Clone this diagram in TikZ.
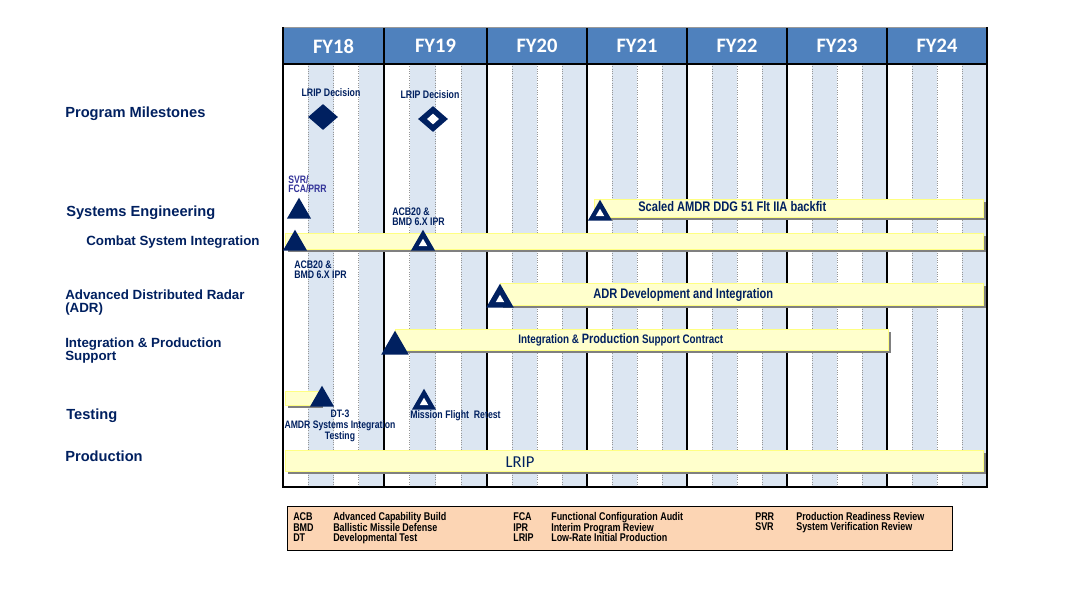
\documentclass[tikz,border=0pt]{standalone}
\usepackage{fontspec}
\setmainfont{Liberation Sans}
\newfontfamily\narrowfont[FakeStretch=0.8]{Liberation Sans}
\newfontfamily\calfont{Carlito}
\usetikzlibrary{
  shapes.geometric,
  fit,
  shadows,
  positioning
}
\definecolor{NavyText}      {RGB}{0,  32,  96}
\definecolor{MilestoneBlue} {RGB}{0,  32,  96}
\definecolor{ReviewPurple}  {RGB}{51,  51, 153}
\definecolor{HeaderBlue}    {RGB}{79, 129, 189}
\definecolor{QuarterShade}  {RGB}{220,230, 242}
\definecolor{QuarterLine}   {RGB}{150,150, 150}
\definecolor{BarFill}       {RGB}{255,255, 204}
\definecolor{BarEdge}       {RGB}{255,255, 130}
\definecolor{LegendPeach}   {RGB}{252,213, 180}

\begin{document}
\begin{tikzpicture}[
  x=0.75pt, y=-0.75pt,
  rowlabel/.style={
    anchor=west, align=left, inner sep=0pt,
    text=NavyText,
    font=\fontsize{11}{9.75}\selectfont\bfseries
  },
  sublabel/.style={
    rowlabel,
    font=\fontsize{10}{9.75}\selectfont\bfseries
  },
  fylabel/.style={
    text=white, inner sep=0pt,
    font=\calfont\fontsize{15.4}{18}\selectfont\bfseries
  },
  note/.style={
    text=NavyText, inner sep=0pt, align=left,
    font=\narrowfont\fontsize{8.2}{7.5}\selectfont\bfseries
  },
  barlabel/.style={
    anchor=west, text=NavyText, inner sep=0pt,
    font=\narrowfont\fontsize{10.4}{10}\selectfont\bfseries
  },
  bar/.style={
    draw=BarEdge, fill=BarFill,
    line width=0.75pt, inner sep=0pt,
    drop shadow={shadow xshift=2.25pt, shadow yshift=-2.5pt,
      fill=black!50, opacity=1}
  },
  tri/.style={
    regular polygon, regular polygon sides=3,
    fill=MilestoneBlue, inner sep=0pt,
    minimum size=21pt, anchor=south
  },
  bigtri/.style={tri, minimum size=24pt},
  trihole/.style={
    regular polygon, regular polygon sides=3,
    fill=white, inner sep=0pt, minimum size=7.5pt
  },
  gate/.style={
    diamond, fill=MilestoneBlue, inner sep=0pt,
    minimum width=22.5pt, minimum height=19.5pt
  },
  gatehole/.style={
    diamond, fill=white, inner sep=0pt,
    minimum width=9pt, minimum height=8.25pt
  },
  legendtext/.style={
    anchor=base west, inner sep=0pt,
    font=\narrowfont\fontsize{8.4}{8}\selectfont\bfseries
  }
]
\useasboundingbox[fill=white] (0,0) rectangle (1073,597);

% quarter shading, quarter lines and year header
\foreach \xa/\xb/\yr in {283/384/18, 384/487/19, 487/587/20,
  587/687/21, 687/787/22, 787/887/23, 887/987/24} {
  \pgfmathsetmacro\q{(\xb-\xa)/4}
  \fill[QuarterShade] ({\xa+\q},64) rectangle ({\xa+2*\q},487);
  \fill[QuarterShade] ({\xa+3*\q},64) rectangle (\xb,487);
  \foreach \k in {1,2,3}
    \draw[QuarterLine, densely dotted, line width=0.75pt]
      ({\xa+\k*\q},64) -- ({\xa+\k*\q},487);
  \fill[HeaderBlue] (\xa,27) rectangle (\xb,64);
  \node[fylabel] (fy\yr) at ({(\xa+\xb)/2},46) {FY\yr};
}
\foreach \xx in {384,487,587,687,787,887}
  \draw[black, line width=1.5pt] (\xx,27) -- (\xx,487);
\draw[black!40, line width=0.75pt] (283,27) -- (987,27);
\draw[black, line width=1.5pt] (283,64) -- (987,64);
\draw[black, line width=1.2pt] (283,27) -- (283,487);
\draw[black, line width=1.8pt] (987,27) -- (987,487);
\draw[black, line width=1.8pt] (282,487) -- (988,487);

% row titles
\node[rowlabel] (milestones) at (65,114) {Program Milestones};
\node[rowlabel] (syseng)     at (66,213) {Systems Engineering};
\node[sublabel] (csi)        at (86,242) {Combat System Integration};
\node[sublabel] (adr)        at (65,303) {Advanced Distributed Radar\\(ADR)};
\node[sublabel] (ips)        at (65,350.5) {Integration \& Production\\ Support};
\node[rowlabel] (testing)    at (66,416) {Testing};
\node[rowlabel] (production) at (65,456) {Production};

% program milestones
\node[note] (lripdec1) at (331,93) {LRIP Decision};
\node[gate] (gate1) at (323,117) {};
\node[note] (lripdec2) at (430,95) {LRIP Decision};
\node[gate] (gate2) at (433,119) {};
\node[gatehole] at (gate2.center) {};

% schedule bars
\node[bar, fit={(594,199) (983,217)}] (scaledbar) {};
\node[bar, fit={(285,233) (983,249)}] (csibar) {};
\node[bar, fit={(500,283) (983,305)}] (adrbar) {};
\node[bar, fit={(395,329) (888,350)}] (ipsbar) {};
\node[bar, fit={(285,391) (320,405)}] (dtbar) {};
\node[bar, fit={(285,450) (983,471)}] (lripbar) {};

\node[barlabel] (scaledtxt) at (638,207)
  {Scaled AMDR DDG 51 Flt IIA backfit};
\node[barlabel] (adrtxt) at (593,295)
  {ADR Development and Integration};
\node[barlabel, font=\narrowfont\fontsize{9.25}{10}\selectfont\bfseries]
  (ipstxt) at (518,340)
  {Integration \& {\fontsize{10.2}{10}\selectfont Production} Support Contract};
\node[text=NavyText, font=\calfont\fontsize{12.5}{14}\selectfont]
  (lriptxt) at (520,462) {LRIP};

% event triangles
\node[tri] (tsvr) at (299,219) {};
\node[note, anchor=west, text=ReviewPurple,
  font=\narrowfont\fontsize{8.1}{7}\selectfont\bfseries]
  (svrtxt) at (288,184.5) {SVR/\\FCA/PRR};

\node[tri] (tscaled) at (600,221) {};
\node[trihole] at (tscaled.center) {};

\node[tri] (tcsi) at (295,251) {};
\node[note, anchor=west] (acbbelow) at (294,269.5) {ACB20 \&\\BMD 6.X IPR};
\node[tri] (tacb) at (423,251) {};
\node[trihole] at (tacb.center) {};
\node[note, anchor=west] (acbabove) at (392,217) {ACB20 \&\\BMD 6.X IPR};

\node[bigtri] (tadr) at (500,308) {};
\node[trihole] at (tadr.center) {};

\node[bigtri] (tips) at (395,355) {};

\node[tri] (tdt) at (322,407) {};
\node[note, align=center,
  font=\narrowfont\fontsize{8.1}{8.25}\selectfont\bfseries]
  (dttxt) at (340,426) {DT-3\\AMDR Systems Integration\\Testing};
\node[tri] (tretest) at (424,410) {};
\node[trihole] at (tretest.center) {};
\node[note, anchor=west] (retesttxt) at (410,416) {Mission Flight\ \ Retest};

% legend
\node[draw=black, fill=LegendPeach, line width=0.75pt, inner sep=0pt,
  fit={(287,506) (952,550)}] (legend) {};
\foreach \abbr/\full/\xa/\xb/\yy in {
  ACB/Advanced Capability Build/293/333/520.5,
  BMD/Ballistic Missile Defense/293/333/531,
  DT/Developmental Test/293/333/541.5,
  FCA/Functional Configuration Audit/513/551/520.5,
  IPR/Interim Program Review/513/551/531,
  LRIP/Low-Rate Initial Production/513/551/541.5,
  PRR/Production Readiness Review/755/796/520,
  SVR/System Verification Review/755/796/530.5} {
  \node[legendtext] (ab-\abbr) at (\xa,\yy) {\abbr};
  \node[legendtext] (df-\abbr) at (\xb,\yy) {\full};
}
\end{tikzpicture}
\end{document}
